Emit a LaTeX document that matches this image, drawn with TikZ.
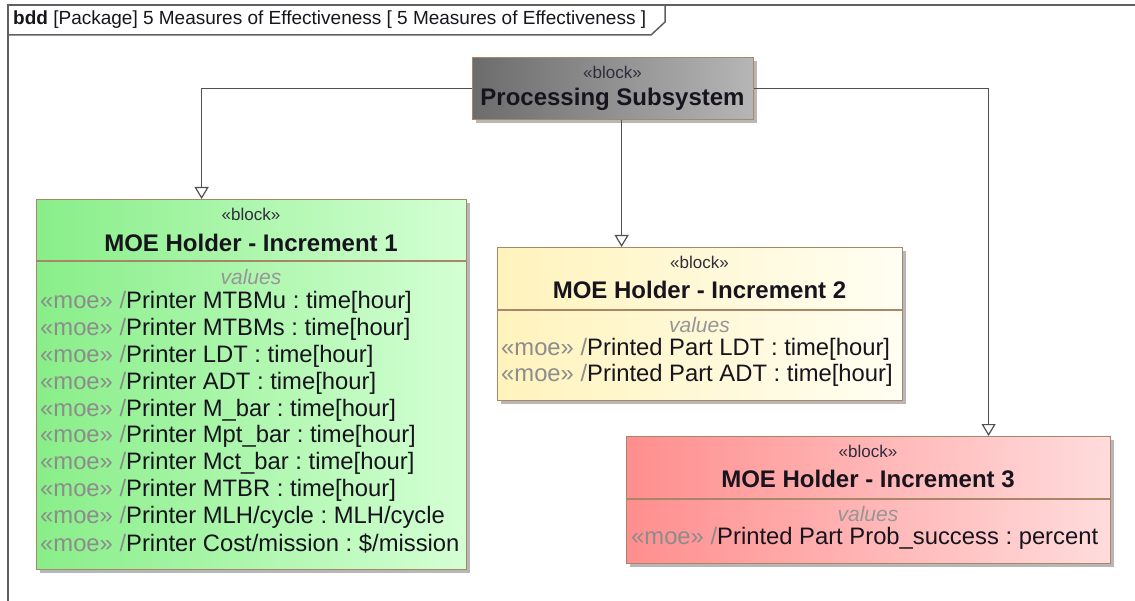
\documentclass[tikz,border=0pt]{standalone}
\usepackage{fontspec}
\setmainfont{Liberation Sans}
\usetikzlibrary{arrows.meta,shadows,calc}

\definecolor{framegray}{RGB}{96,96,96}
\definecolor{linkgray}{RGB}{80,80,80}
\definecolor{blockborder}{RGB}{168,134,104}
\definecolor{moegray}{RGB}{140,140,140}
\definecolor{valgray}{RGB}{150,150,150}
\definecolor{txtdark}{RGB}{24,20,30}
\definecolor{stereodark}{RGB}{48,44,60}
\definecolor{psleft}{RGB}{108,108,108}
\definecolor{psright}{RGB}{182,182,182}
\definecolor{gleft}{RGB}{136,238,136}
\definecolor{gright}{RGB}{212,255,212}
\definecolor{yleft}{RGB}{255,243,188}
\definecolor{yright}{RGB}{255,254,242}
\definecolor{rleft}{RGB}{255,142,142}
\definecolor{rright}{RGB}{255,220,220}

\newcommand{\moe}{\textcolor{moegray}{«moe» /}}
\frenchspacing

\begin{document}
\begin{tikzpicture}[x=1pt,y=-1pt,
  frameline/.style={draw=framegray,line width=1.5pt},
  blockbox/.style={draw=blockborder,line width=1.2pt,anchor=north west,
    inner sep=0pt,
    drop shadow={shadow xshift=3.5pt,shadow yshift=-3.5pt,fill=black!40,opacity=0.7}},
  divider/.style={draw=blockborder,line width=1.2pt},
  stereo/.style={text=stereodark,font=\fontsize{17}{20}\selectfont,inner sep=0pt},
  blocktitle/.style={text=txtdark,font=\fontsize{24}{28}\selectfont\bfseries,inner sep=0pt},
  valhead/.style={text=valgray,font=\fontsize{21}{24}\selectfont\itshape,inner sep=0pt},
  entry/.style={text=txtdark,font=\fontsize{23.8}{27}\selectfont,anchor=west,inner sep=0pt},
  genlink/.style={draw=linkgray,line width=1.3pt,
    -{Triangle[length=12pt,width=14pt,fill=white,line width=1.2pt]}}]

\useasboundingbox (0,0) rectangle (1135,601);

% diagram frame and its name tab
\draw[frameline] (8,601) -- (8,5) -- (1135,5);
\draw[frameline] (8,35) -- (651,35) -- (665,22) -- (665,5);
\node[anchor=west,inner sep=0pt,text=txtdark,font=\fontsize{19}{22}\selectfont] (frametitle) at (13,20)
  {\textbf{bdd} [Package] 5 Measures of Effectiveness [ 5 Measures of Effectiveness ]};

% Processing Subsystem
\node[blockbox,left color=psleft,right color=psright,minimum width=281pt,minimum height=62pt] (ps) at (472,57) {};
\node[stereo] (ps-st) at (612.5,72.7) {«block»};
\node[blocktitle] (ps-t) at (612.5,99.5) {Processing Subsystem};

% MOE Holder - Increment 1
\node[blockbox,left color=gleft,right color=gright,minimum width=430pt,minimum height=370pt] (inc1) at (36,199) {};
\node[stereo] (inc1-st) at (251,214.5) {«block»};
\node[blocktitle] (inc1-t) at (251,243) {MOE Holder - Increment 1};
\draw[divider] ([yshift=-62pt]inc1.north west) -- ([yshift=-62pt]inc1.north east);
\node[valhead] (inc1-v) at (251,277) {values};
\foreach \txt [count=\i] in {
  {Printer MTBMu : time[hour]},
  {Printer MTBMs : time[hour]},
  {Printer LDT : time[hour]},
  {Printer ADT : time[hour]},
  {Printer M\_bar : time[hour]},
  {Printer Mpt\_bar : time[hour]},
  {Printer Mct\_bar : time[hour]},
  {Printer MTBR : time[hour]},
  {Printer MLH/cycle : MLH/cycle},
  {Printer Cost/mission : \$/mission}}
  \node[entry] (inc1-\i) at (40,{302.7+26.8*(\i-1)}) {\moe\txt};

% MOE Holder - Increment 2
\node[blockbox,left color=yleft,right color=yright,minimum width=405pt,minimum height=153pt] (inc2) at (497,247) {};
\node[stereo] (inc2-st) at (699.5,262.7) {«block»};
\node[blocktitle] (inc2-t) at (699.5,290) {MOE Holder - Increment 2};
\draw[divider] ([yshift=-63pt]inc2.north west) -- ([yshift=-63pt]inc2.north east);
\node[valhead] (inc2-v) at (699.5,325) {values};
\node[entry] (inc2-1) at (501,349) {\moe Printed Part LDT : time[hour]};
\node[entry] (inc2-2) at (501,375.8) {\moe Printed Part ADT : time[hour]};

% MOE Holder - Increment 3
\node[blockbox,left color=rleft,right color=rright,minimum width=484pt,minimum height=127pt] (inc3) at (626,436) {};
\node[stereo] (inc3-st) at (868,451.7) {«block»};
\node[blocktitle] (inc3-t) at (868,479) {MOE Holder - Increment 3};
\draw[divider] ([yshift=-63pt]inc3.north west) -- ([yshift=-63pt]inc3.north east);
\node[valhead] (inc3-v) at (868,514) {values};
\node[entry] (inc3-1) at (631,538) {\moe Printed Part Prob\_success : percent};

% generalization links
\draw[genlink] (ps.west) -| ([xshift=-50pt]inc1.north);
\draw[genlink] ([xshift=8.5pt]ps.south) -- ([xshift=-78.5pt]inc2.north);
\draw[genlink] (ps.east) -| ([xshift=120pt]inc3.north);

\end{tikzpicture}
\end{document}
